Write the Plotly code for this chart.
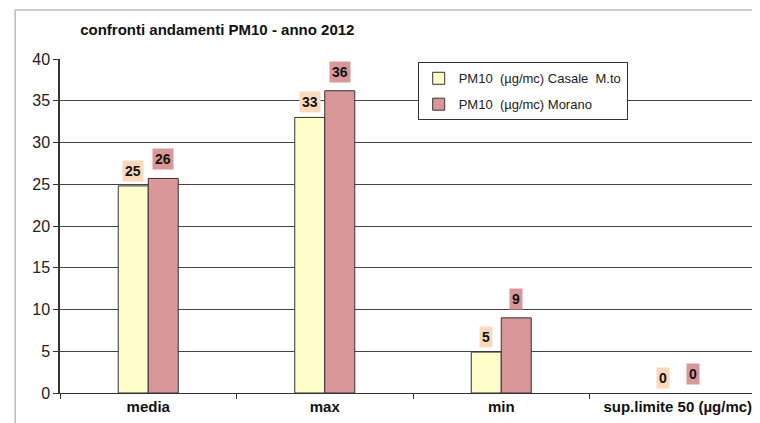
import plotly.graph_objects as go

# categorie e valori PM10 2012
categorie = ["media", "max", "min", "sup.limite 50 (µg/mc)"]
casale = [24.8, 33.0, 4.9, 0]
morano = [25.7, 36.2, 9.0, 0]
nome_casale = "PM10  (µg/mc) Casale  M.to"
nome_morano = "PM10  (µg/mc) Morano"

# niente bordo per le barre a zero
bordo_casale = [1 if v > 0 else 0 for v in casale]
bordo_morano = [1 if v > 0 else 0 for v in morano]

fig = go.Figure()
fig.add_trace(go.Bar(x=categorie, y=casale, name=nome_casale, legendgroup="a",
                     marker=dict(color="#ffffcc", line=dict(color="#333333", width=bordo_casale))))
fig.add_trace(go.Bar(x=categorie, y=morano, name=nome_morano, legendgroup="b",
                     marker=dict(color="#d9979a", line=dict(color="#333333", width=bordo_morano))))

# etichette con sfondo colorato sopra le barre
for c, v in zip(categorie, casale):
    fig.add_annotation(x=c, y=v, text="<b>%d</b>" % round(v), showarrow=False,
                       xshift=-15, yshift=15, yanchor="middle", bgcolor="#fcd9bd",
                       font=dict(family="Arial", size=14, color="#111111"), borderpad=2)
for c, v in zip(categorie, morano):
    fig.add_annotation(x=c, y=v, text="<b>%d</b>" % round(v), showarrow=False,
                       xshift=15, yshift=19, yanchor="middle", bgcolor="#d9979a",
                       font=dict(family="Arial", size=14, color="#111111"), borderpad=2)

# cornice esterna del grafico
fig.add_shape(type="rect", xref="paper", yref="paper", x0=-0.064, x1=1.05, y0=-0.2, y1=1.147,
              line=dict(color="#bbbbbb", width=1.5), layer="below")

fig.update_layout(
    width=752, height=415,
    margin=dict(l=52, r=0, t=51, b=30, autoexpand=False),
    paper_bgcolor="white", plot_bgcolor="white",
    font=dict(family="Arial", size=14, color="#222222"),
    title=dict(text="<b>confronti andamenti PM10 - anno 2012</b>", x=0.096, xanchor="left",
               y=0.947, yanchor="middle", font=dict(size=15, color="#111111")),
    barmode="group", bargap=0.66, bargroupgap=0,
    showlegend=True,
    legend=dict(x=0.511, y=0.99, xanchor="left", yanchor="top", bgcolor="white",
                bordercolor="#333333", borderwidth=1, font=dict(size=13, color="#222222"),
                itemwidth=30, tracegroupgap=6),
)
fig.update_xaxes(range=[-0.5, 3.466], showline=True, linecolor="#333333", linewidth=1,
                 ticks="outside", tickson="boundaries", ticklen=5, tickcolor="#333333",
                 tickfont=dict(size=15, color="#111111"),
                 tickprefix="<b>", ticksuffix="</b>", showgrid=False)
fig.update_yaxes(range=[0, 40], dtick=5, showline=True, linecolor="#333333", linewidth=1.5,
                 ticks="outside", ticklen=5, tickcolor="#333333",
                 showgrid=True, gridcolor="#444444", gridwidth=1.2,
                 tickfont=dict(size=16, color="#222222"))
fig.write_html("out.html")
